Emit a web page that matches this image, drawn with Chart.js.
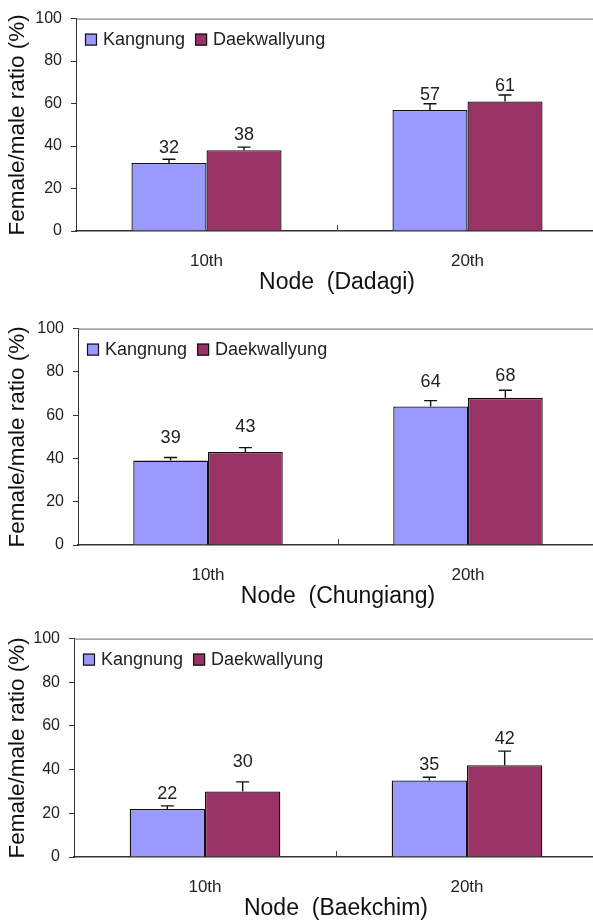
<!DOCTYPE html>
<html>
<head>
<meta charset="utf-8">
<script src="https://cdn.jsdelivr.net/npm/chart.js@4.4.0/dist/chart.umd.min.js"></script>
<style>
  html, body { margin: 0; padding: 0; background: #fff; width: 593px; height: 920px; overflow: hidden; }
  .panel { position: absolute; left: 0; }
</style>
</head>
<body>
<canvas class="panel" id="c1" width="610" height="300" style="top:0"></canvas>
<canvas class="panel" id="c2" width="610" height="304" style="top:310px"></canvas>
<canvas class="panel" id="c3" width="610" height="306" style="top:620px"></canvas>
<script>
// categories / series / ticks
const nodes = ['10th', '20th'];
const seriesNames = ['Kangnung', 'Daekwallyung'];
const yTicks = [0, 20, 40, 60, 80, 100];

// Dadagi
const dadagiKangnung = [32, 57];
const dadagiDaekwallyung = [38, 61];
const dadagiKangnungErr = [1.8, 2.9];
const dadagiDaekwallyungErr = [1.5, 3.0];

// Chungiang
const chungiangKangnung = [39, 64];
const chungiangDaekwallyung = [43, 68];
const chungiangKangnungErr = [1.4, 2.7];
const chungiangDaekwallyungErr = [2.0, 3.5];

// Baekchim
const baekchimKangnung = [22, 35];
const baekchimDaekwallyung = [30, 42];
const baekchimKangnungErr = [1.4, 1.5];
const baekchimDaekwallyungErr = [4.4, 6.5];

const colors = ['#9999FF', '#993366'];
const FONT = '"Liberation Sans", Arial, sans-serif';

// error bars (upper half only) + value labels above them
const errorBarPlugin = {
    id: 'errorBars',
    afterDatasetsDraw(chart) {
        const ctx = chart.ctx;
        const y = chart.scales.y;
        chart.data.datasets.forEach((ds, di) => {
            const meta = chart.getDatasetMeta(di);
            meta.data.forEach((bar, i) => {
                const top = y.getPixelForValue(ds.data[i] + ds.errors[i]);
                ctx.save();
                ctx.strokeStyle = '#111';
                ctx.lineWidth = 1.4;
                ctx.beginPath();
                ctx.moveTo(bar.x, bar.y);
                ctx.lineTo(bar.x, top);
                ctx.moveTo(bar.x - 6.5, top);
                ctx.lineTo(bar.x + 6.5, top);
                ctx.stroke();
                ctx.fillStyle = '#222';
                ctx.font = '18px ' + FONT;
                ctx.textAlign = 'center';
                ctx.textBaseline = 'alphabetic';
                ctx.fillText(String(ds.data[i]), bar.x, top - ds.labelGaps[i]);
                ctx.restore();
            });
        });
    }
};

// legend inside the plot, top-left
const innerLegend = {
    id: 'innerLegend',
    afterDraw(chart) {
        const {ctx, chartArea} = chart;
        let x = chartArea.left + 9;
        const boxTop = chartArea.top + 15;
        ctx.save();
        ctx.font = '18px ' + FONT;
        ctx.textBaseline = 'middle';
        ctx.textAlign = 'left';
        chart.data.datasets.forEach(ds => {
            ctx.fillStyle = ds.backgroundColor;
            ctx.fillRect(x, boxTop, 12, 12);
            ctx.strokeStyle = '#111';
            ctx.lineWidth = 1.2;
            ctx.strokeRect(x + 0.5, boxTop + 0.5, 11, 11);
            ctx.fillStyle = '#222';
            ctx.fillText(ds.label, x + 18, boxTop + 6.5);
            x += 18 + ctx.measureText(ds.label).width + 10;
        });
        ctx.restore();
    }
};

// top border of the plot area and the inward tick between categories
const framePlugin = {
    id: 'frame',
    afterDraw(chart) {
        const {ctx, chartArea, scales: {x}} = chart;
        ctx.save();
        ctx.strokeStyle = '#666';
        ctx.lineWidth = 1;
        ctx.beginPath();
        ctx.moveTo(chartArea.left, chartArea.top + 0.5);
        ctx.lineTo(chartArea.right, chartArea.top + 0.5);
        ctx.stroke();
        ctx.strokeStyle = '#444';
        ctx.beginPath();
        for (let i = 1; i < nodes.length; i++) {
            const px = Math.round((x.getPixelForValue(i - 1) + x.getPixelForValue(i)) / 2) + 0.5;
            ctx.moveTo(px, chartArea.bottom);
            ctx.lineTo(px, chartArea.bottom - 6);
        }
        ctx.stroke();
        ctx.restore();
    }
};

function makeChart(id, site, kang, daek, kangErr, daekErr, padTop, axisLeft, gaps) {
    const values = [kang, daek];
    const errs = [kangErr, daekErr];
    new Chart(document.getElementById(id), {
        type: 'bar',
        data: {
            labels: nodes,
            datasets: seriesNames.map((name, s) => ({
                label: name,
                data: values[s],
                errors: errs[s],
                labelGaps: gaps[s],
                backgroundColor: colors[s],
                borderColor: '#111',
                borderWidth: 1.3,
                categoryPercentage: 0.575,
                barPercentage: 1.0
            }))
        },
        options: {
            responsive: false,
            animation: false,
            layout: { padding: { top: padTop, right: 12, left: 0, bottom: 0 } },
            plugins: {
                legend: { display: false },
                tooltip: { enabled: false }
            },
            scales: {
                x: {
                    grid: { display: false, drawTicks: false },
                    border: { display: true, color: '#333', width: 1.5 },
                    ticks: { padding: 20, color: '#222', font: { family: FONT, size: 17 } },
                    title: {
                        display: true,
                        text: 'Node  (' + site + ')',
                        color: '#111',
                        font: { family: FONT, size: 23 },
                        padding: { top: 0, bottom: 4 }
                    },
                    afterFit(scale) { scale.height = 69; }
                },
                y: {
                    min: 0,
                    max: 100,
                    afterBuildTicks(scale) { scale.ticks = yTicks.map(v => ({ value: v })); },
                    grid: { drawOnChartArea: false, drawTicks: true, tickLength: 5, color: '#333' },
                    border: { display: true, color: '#333', width: 1 },
                    ticks: { padding: 9, color: '#222', font: { family: FONT, size: 16 } },
                    title: {
                        display: true,
                        text: 'Female/male ratio (%)',
                        color: '#111',
                        font: { family: FONT, size: 22.5 },
                        padding: { top: 4, bottom: 0 }
                    },
                    afterFit(scale) { scale.width = axisLeft; }
                }
            }
        },
        plugins: [errorBarPlugin, innerLegend, framePlugin]
    });
}

makeChart('c1', 'Dadagi', dadagiKangnung, dadagiDaekwallyung,
    dadagiKangnungErr, dadagiDaekwallyungErr, 14, 76, [[6, 4], [7, 4]]);
makeChart('c2', 'Chungiang', chungiangKangnung, chungiangDaekwallyung,
    chungiangKangnungErr, chungiangDaekwallyungErr, 16, 78, [[15, 14], [16, 9]]);
makeChart('c3', 'Baekchim', baekchimKangnung, baekchimDaekwallyung,
    baekchimKangnungErr, baekchimDaekwallyungErr, 17, 74, [[7, 7], [15, 7]]);
</script>
</body>
</html>
